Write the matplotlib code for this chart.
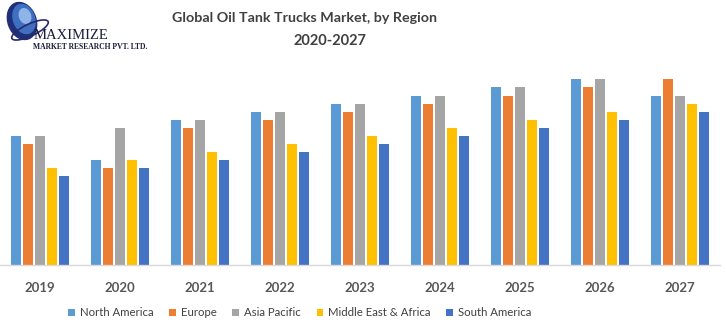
import matplotlib
matplotlib.use("Agg")
import matplotlib.pyplot as plt
from matplotlib.patches import Ellipse, Patch
import numpy as np

years = ["2019", "2020", "2021", "2022", "2023", "2024", "2025", "2026", "2027"]
regions = ["North America", "Europe", "Asia Pacific", "Middle East & Africa", "South America"]
north_america = [12.9, 10.5, 14.5, 15.3, 16.1, 16.9, 17.8, 18.6, 16.9]
europe = [12.1, 9.7, 13.7, 14.5, 15.3, 16.1, 16.9, 17.8, 18.6]
asia_pacific = [12.9, 13.7, 14.5, 15.3, 16.1, 16.9, 17.8, 18.6, 16.9]
middle_east_africa = [9.7, 10.5, 11.3, 12.1, 12.9, 13.7, 14.5, 15.3, 16.1]
south_america = [8.9, 9.7, 10.5, 11.3, 12.1, 12.9, 13.7, 14.5, 15.3]
colors = ["#5B9BD5", "#ED7D31", "#A5A5A5", "#FFC000", "#4472C4"]

series = [north_america, europe, asia_pacific, middle_east_africa, south_america]
FONT = ["Lato", "DejaVu Sans"]

W, H = 726, 325
fig = plt.figure(figsize=(W / 100, H / 100), dpi=100)
fig.patch.set_facecolor("white")

# plot area in pixel terms: x 0..720, y 60..265 (from top)
ax = fig.add_axes([0 / W, 1 - 265 / H, 720 / W, 205 / H])
x = np.arange(len(years))
pitch = 0.15
width = 0.125
for i, (vals, c) in enumerate(zip(series, colors)):
    ax.bar(x + (i - 2) * pitch, vals, width=width, color=c, label=regions[i])

ax.set_xlim(-0.5, len(years) - 0.5)
ax.set_ylim(0, 20.5)
ax.set_yticks([])
ax.set_xticks(x)
ax.set_xticklabels(years, fontsize=9.5, fontweight="bold", color="#595959",
                   family=FONT)
ax.tick_params(axis="x", length=0, pad=12)
for s in ["top", "left", "right"]:
    ax.spines[s].set_visible(False)
ax.spines["bottom"].set_color("#D9D9D9")
ax.spines["bottom"].set_linewidth(1.0)

# title
fig.text(304 / W, 1 - 18 / H, "Global Oil Tank Trucks Market, by Region",
         ha="center", va="center", fontsize=10.3, fontweight="bold",
         color="#404040", family=FONT)
fig.text(330 / W, 1 - 41 / H, "2020-2027",
         ha="center", va="center", fontsize=10.5, fontweight="bold",
         color="#404040", family=FONT)

# legend
handles = [Patch(facecolor=c, edgecolor="none") for c in colors]
fig.legend(handles, regions, loc="center", bbox_to_anchor=(300 / W, 1 - 313 / H),
           ncol=5, frameon=False, handlelength=0.55, handleheight=0.55,
           handletextpad=0.5, columnspacing=1.35,
           prop={"size": 8.2, "family": FONT},
           labelcolor="#404040")

# company logo: globe and lettering
logo = fig.add_axes([0, 1 - 60 / H, 160 / W, 60 / H])
logo.set_xlim(0, 160)
logo.set_ylim(60, 0)
logo.axis("off")
logo.add_patch(Ellipse((22, 21), 28, 38, angle=-20, color="#1F2F7A"))
logo.add_patch(Ellipse((24, 19), 21, 30, angle=-20, color="#3F6FC0"))
logo.add_patch(Ellipse((25, 16), 11, 15, angle=-20, color="#8FB5E8"))
logo.add_patch(Ellipse((30, 30), 40, 12, angle=-25, fill=False,
                       edgecolor="#2A2A6A", linewidth=1.2))
logo.text(34, 39, "MAXIMIZE", fontsize=10.5, family="Liberation Serif",
          color="#1A1A3A", va="baseline", ha="left")
logo.text(33, 49, "MARKET RESEARCH PVT. LTD.", fontsize=5.5,
          family="Liberation Serif", fontweight="bold", color="#1A1A3A",
          va="baseline", ha="left")

fig.savefig("out.png", dpi=100, facecolor="white")
